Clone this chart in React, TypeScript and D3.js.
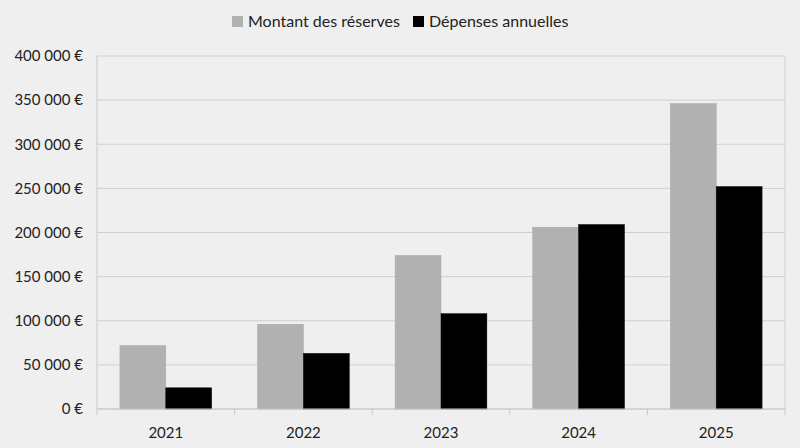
import React from "react";
import * as d3 from "d3";

const years = ["2021", "2022", "2023", "2024", "2025"];
const reserves = [72000, 96000, 174000, 206000, 346000];
const depenses = [24000, 63000, 108000, 209000, 252000];
const yTicks = [0, 50000, 100000, 150000, 200000, 250000, 300000, 350000, 400000];
const seriesNames = ["Montant des réserves", "Dépenses annuelles"];
const seriesColors = ["#b1b1b1", "#000000"];

const W = 800, H = 448;
const M = { left: 97, right: 785, top: 56, bottom: 409 };
const FONT = "Lato, 'Open Sans', sans-serif";

const fmt = (v: number) => {
  const s = d3.format(",")(v).replace(/,/g, " ");
  return s + " €";
};

export default function App() {
  const x = d3.scaleBand<string>().domain(years).range([M.left, M.right]).paddingInner(0).paddingOuter(0);
  const x1 = d3.scaleBand<string>().domain(["0", "1"]).range([0, x.bandwidth()]).paddingOuter(0.5).paddingInner(0);
  const y = d3.scaleLinear().domain([0, 400000]).range([M.bottom, M.top]);
  const data = [reserves, depenses];
  return (
    <svg width={W} height={H} style={{ position: "absolute", left: 0, top: 0, background: "#efefef" }}>
      <rect x={0} y={0} width={W} height={H} fill="#efefef" />
      {yTicks.map((t) => (
        <g key={t}>
          <line x1={M.left} x2={M.right} y1={y(t)} y2={y(t)} stroke="#cfcfcf" strokeWidth={1} />
          <text x={83} y={y(t)} dy="0.35em" textAnchor="end" fontFamily={FONT} fontSize={15} fill="#222">
            {fmt(t)}
          </text>
        </g>
      ))}
      <line x1={M.right} x2={M.right} y1={M.top} y2={M.bottom} stroke="#cfcfcf" />
      {years.map((yr, i) =>
        data.map((s, k) => (
          <rect
            key={yr + k}
            x={(x(yr) as number) + (x1(String(k)) as number)}
            y={y(s[i])}
            width={x1.bandwidth()}
            height={M.bottom - y(s[i])}
            fill={seriesColors[k]}
            stroke={k === 0 ? "#a8a8a8" : "#000"}
            strokeWidth={0.5}
          />
        ))
      )}
      <line x1={M.left} x2={M.left} y1={M.top} y2={M.bottom + 6} stroke="#c8c8c8" />
      <line x1={M.left} x2={M.right} y1={M.bottom} y2={M.bottom} stroke="#c8c8c8" />
      {years.map((yr, i) => (
        <g key={yr}>
          <line
            x1={(x(yr) as number) + x.bandwidth()}
            x2={(x(yr) as number) + x.bandwidth()}
            y1={M.bottom}
            y2={M.bottom + 6}
            stroke="#c8c8c8"
          />
          <text
            x={(x(yr) as number) + x.bandwidth() / 2}
            y={438}
            textAnchor="middle"
            fontFamily={FONT}
            fontSize={15}
            fill="#222"
          >
            {yr}
          </text>
        </g>
      ))}
      <g>
        <rect x={232} y={16} width={11} height={11} fill={seriesColors[0]} />
        <text x={248} y={27} fontFamily={FONT} fontSize={16} fill="#222">{seriesNames[0]}</text>
        <rect x={413} y={16} width={11} height={11} fill={seriesColors[1]} />
        <text x={429} y={27} fontFamily={FONT} fontSize={16} fill="#222">{seriesNames[1]}</text>
      </g>
    </svg>
  );
}
